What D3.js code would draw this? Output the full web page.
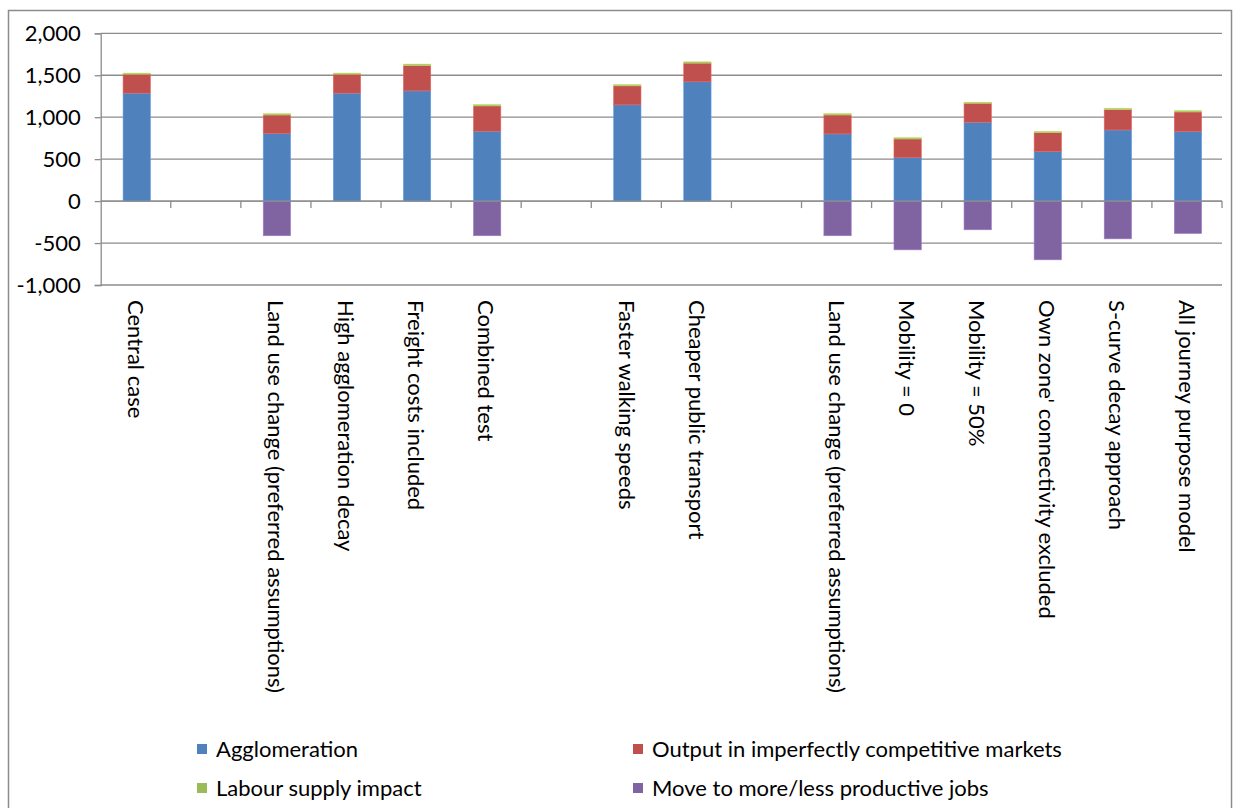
<!DOCTYPE html>
<html>
<head>
<meta charset="utf-8">
<script src="https://cdn.jsdelivr.net/npm/d3@7"></script>
<style>
  html, body { margin: 0; padding: 0; background: #fff; }
  svg { display: block; }
  text { font-family: Lato, "Open Sans", sans-serif; fill: #000; }
</style>
</head>
<body>
<svg id="chart" width="1243" height="808"></svg>
<script>
// Scenario names along the x axis (empty entries are spacer slots between groups)
const categories = [
  "Central case", "",
  "Land use change (preferred assumptions)", "High agglomeration decay",
  "Freight costs included", "Combined test", "",
  "Faster walking speeds", "Cheaper public transport", "",
  "Land use change (preferred assumptions) ", "Mobility = 0", "Mobility = 50%",
  "Own zone' connectivity excluded", "S-curve decay approach", "All journey purpose model"
];

// Component values for each scenario (£m)
const agglomeration = [1287, 0, 805, 1287, 1314, 833, 0, 1147, 1422, 0, 801, 518, 940, 590, 848, 829];
const outputImperfect = [227, 0, 222, 227, 304, 302, 0, 227, 223, 0, 226, 223, 227, 227, 244, 234];
const labourSupply = [12, 0, 15, 12, 15, 16, 0, 15, 15, 0, 16, 15, 12, 15, 15, 16];
const moveJobs = [0, 0, -413, 0, 0, -413, 0, 0, 0, 0, -413, -581, -342, -700, -450, -386];

const seriesNames = ["Agglomeration", "Output in imperfectly competitive markets",
                     "Labour supply impact", "Move to more/less productive jobs"];
const seriesColors = ["#4F81BD", "#C0504D", "#9BBB59", "#8064A2"];

const yTicks = [-1000, -500, 0, 500, 1000, 1500, 2000];

const FONT = 22;
const svg = d3.select("#chart");

// outer chart frame
svg.append("rect")
  .attr("x", 8.5).attr("y", 10.5)
  .attr("width", 1223).attr("height", 820)
  .attr("fill", "none").attr("stroke", "#8c8c8c").attr("stroke-width", 1.5);

const x = d3.scaleBand().domain(d3.range(categories.length)).range([100.7, 1222]).paddingInner(0).paddingOuter(0);
const y = d3.scaleLinear().domain([-1000, 2000]).range([285, 33.3]);

const g = svg.append("g");

// horizontal gridlines
g.selectAll("line.grid").data(yTicks).join("line")
  .attr("class", "grid")
  .attr("x1", 100.7).attr("x2", 1222)
  .attr("y1", d => y(d)).attr("y2", d => y(d))
  .attr("stroke", "#8c8c8c").attr("stroke-width", 1.3);

// y axis
const yAxis = d3.axisLeft(y).tickValues(yTicks).tickSize(6).tickPadding(14)
  .tickFormat(d3.format(","));
const ya = svg.append("g").attr("transform", "translate(100.7,0)").call(yAxis);
ya.select(".domain").attr("stroke", "#8c8c8c").attr("stroke-width", 1.3);
ya.selectAll(".tick line").attr("stroke", "#8c8c8c").attr("stroke-width", 1.3);
ya.selectAll(".tick text")
  .attr("font-family", "Lato, sans-serif").attr("font-size", FONT).attr("fill", "#000")
  .text(d => d < 0 ? "-" + d3.format(",")(-d) : d3.format(",")(d));

// stacked data: positive components stack upward, negative downward
const rows = categories.map((c, i) => ({
  i, a: agglomeration[i], o: outputImperfect[i], l: labourSupply[i], m: moveJobs[i]
}));
const keys = ["a", "o", "l", "m"];
const segs = [];
rows.forEach(r => {
  let pos = 0, neg = 0;
  keys.forEach((k, ki) => {
    const v = r[k];
    if (!v) return;
    if (v >= 0) { segs.push({ i: r.i, k: ki, y0: pos, y1: pos + v }); pos += v; }
    else { segs.push({ i: r.i, k: ki, y0: neg + v, y1: neg }); neg += v; }
  });
});

const barW = x.bandwidth() * 0.39;
g.selectAll("rect.seg").data(segs).join("rect")
  .attr("class", "seg")
  .attr("x", d => x(d.i) + (x.bandwidth() - barW) / 2 + 1)
  .attr("width", barW)
  .attr("y", d => y(d.y1))
  .attr("height", d => y(d.y0) - y(d.y1))
  .attr("fill", d => seriesColors[d.k])
  .attr("stroke", d => d3.color(seriesColors[d.k]).brighter(0.6))
  .attr("stroke-width", 0.6);

// category axis at zero
const xa = svg.append("g").attr("transform", `translate(0,${y(0)})`);
xa.append("line").attr("x1", 100.7).attr("x2", 1222).attr("stroke", "#8c8c8c").attr("stroke-width", 1.3);
const bounds = d3.range(1, categories.length + 1).map(i => x.range()[0] + i * x.step());
xa.selectAll("line.tk").data(bounds).join("line")
  .attr("class", "tk")
  .attr("x1", d => d).attr("x2", d => d).attr("y1", 0).attr("y2", 7)
  .attr("stroke", "#8c8c8c").attr("stroke-width", 1.3);

// rotated category labels
svg.append("g").selectAll("text.cat").data(categories).join("text")
  .attr("class", "cat")
  .attr("transform", (d, i) => `translate(${x(i) + x.bandwidth() / 2},300) rotate(90)`)
  .attr("dy", "0.35em")
  .attr("font-size", FONT)
  .text(d => d.trim());

// legend
const legendItems = [
  { name: seriesNames[0], color: seriesColors[0], lx: 197, ly: 749 },
  { name: seriesNames[1], color: seriesColors[1], lx: 633, ly: 749 },
  { name: seriesNames[2], color: seriesColors[2], lx: 197, ly: 788 },
  { name: seriesNames[3], color: seriesColors[3], lx: 633, ly: 788 }
];
const lg = svg.append("g").selectAll("g").data(legendItems).join("g")
  .attr("transform", d => `translate(${d.lx},${d.ly})`);
lg.append("rect").attr("x", 0).attr("y", -5).attr("width", 10).attr("height", 10)
  .attr("fill", d => d.color);
lg.append("text").attr("x", 19).attr("dy", "0.35em").attr("font-size", FONT).text(d => d.name);
</script>
</body>
</html>
